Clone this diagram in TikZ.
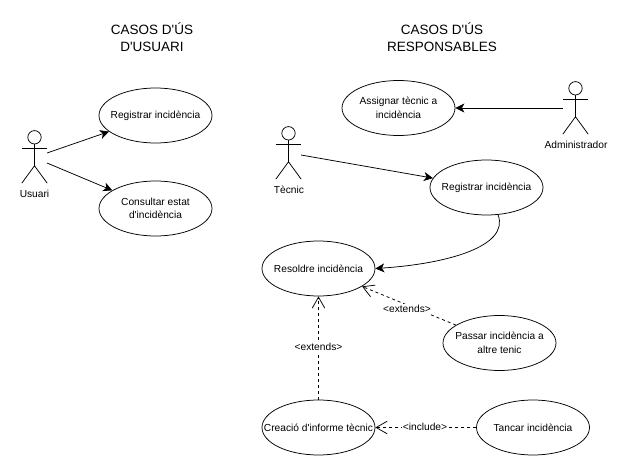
\documentclass[tikz,border=0pt]{standalone}
\usepackage{fontspec}
\setmainfont{Liberation Sans}
\usetikzlibrary{shapes.geometric,arrows.meta}
\newcommand{\qs}{\textquotesingle}
\tikzset{
  usecase/.style={draw=black,fill=white,ellipse,minimum width=113pt,minimum height=55pt,inner xsep=-20pt,inner ysep=0pt,align=center,font=\fontsize{10.2}{13.5}\selectfont,line width=0.75pt},
  actorbox/.style={minimum width=25pt,minimum height=52pt,inner sep=0pt},
  actorlabel/.style={font=\fontsize{10.2}{12}\selectfont,inner sep=0pt},
  titletext/.style={align=center,font=\fontsize{13.5}{17}\selectfont,inner sep=0pt},
  arrowlink/.style={draw=black,line width=0.75pt,-{Stealth[length=9pt,width=9pt,inset=2.5pt]}},
  dashlink/.style={draw=black,line width=0.75pt,dash pattern=on 3pt off 3pt,-{Straight Barb[length=11pt,width=12.5pt,line width=0.75pt]}},
  linklabel/.style={fill=white,inner sep=1pt,font=\fontsize{10.2}{12}\selectfont},
  figure/.style={draw=black,line width=0.75pt}
}
\begin{document}
\begin{tikzpicture}[x=1pt,y=-1pt]
\useasboundingbox (0,0) rectangle (630,476);
\fill[white] (0,0) rectangle (630,476);

\node[titletext] (t1) at (152,37) {CASOS D\qs ÚS\\D\qs USUARI};
\node[titletext] (t2) at (442,37) {CASOS D\qs ÚS\\RESPONSABLES};

\node[usecase] (reg1) at (155.5,115.5) {Registrar incidència};
\node[usecase] (cons) at (155.5,208.5) {Consultar estat\\d\qs incidència};
\node[usecase] (assig) at (398.5,108) {Assignar tècnic a\\incidència};
\node[usecase] (reg2) at (486.5,187.5) {Registrar incidència};
\node[usecase] (res) at (318.5,268.5) {Resoldre incidència};
\node[usecase] (pass) at (499.5,343) {Passar incidència a\\altre tenic};
\node[usecase] (crea) at (318.5,427.5) {Creació d\qs informe tècnic};
\node[usecase] (tanc) at (533,427.5) {Tancar incidència};

% actors
\node[actorbox] (usuari) at (34.5,157) {};
\node[actorbox] (tecnic) at (288.5,153) {};
\node[actorbox] (admin) at (575.5,108) {};
\foreach \a in {usuari,tecnic,admin}{
  \draw[figure] (\a.north)++(0,6.5) circle (6.7pt);
  \draw[figure] (\a.north)++(0,13) -- ++(0,22) coordinate (\a hip);
  \draw[figure] (\a.west)++(0,-9) -- ++(25,0);
  \draw[figure] (\a.south west) -- (\a hip) -- (\a.south east);
}
\node[actorlabel] (lusuari) at (34.5,194) {Usuari};
\node[actorlabel] (ltecnic) at (289,190) {Tècnic};
\node[actorlabel] (ladmin) at (576,145) {Administrador};

\coordinate (ua) at (47,153);
\coordinate (ub) at (47,163);
\coordinate (tc) at (301,155);

\draw[arrowlink] (ua) -- (reg1);
\draw[arrowlink] (ub) -- (cons);
\draw[arrowlink] (tc) -- (reg2);
\draw[arrowlink] (admin.west) -- (assig);
\draw[arrowlink] (reg2.293) .. controls (510,247) and (445,264) .. (res.east);

\draw[dashlink] (pass) -- (res);
\draw[dashlink] (crea) -- (res);
\draw[dashlink] (tanc) -- (crea);

\node[linklabel] (e1) at (407,309) {<extends>};
\node[linklabel] (e2) at (318.5,347) {<extends>};
\node[linklabel] (i1) at (425,427) {<include>};
\end{tikzpicture}
\end{document}
